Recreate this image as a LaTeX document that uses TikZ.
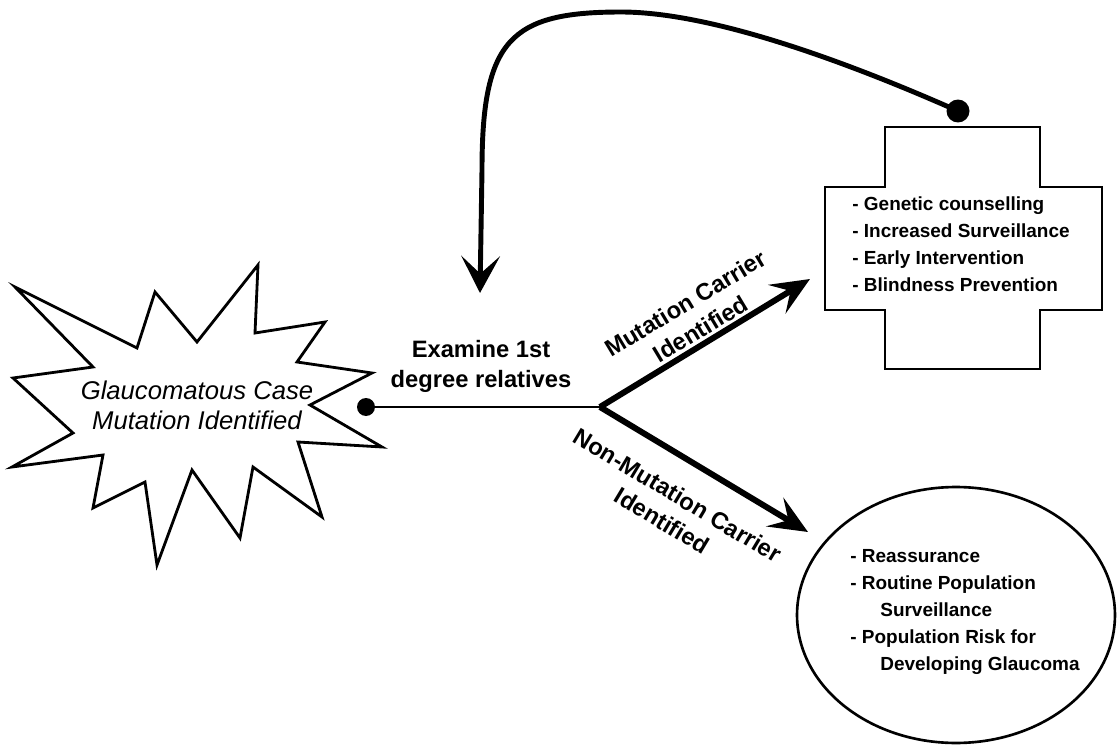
\documentclass[tikz,border=0pt]{standalone}
\usepackage{fontspec}
\setmainfont{Liberation Sans}
\usetikzlibrary{arrows.meta,shapes.geometric}
\begin{document}
\begin{tikzpicture}[x=0.02cm,y=-0.02cm,
  outline/.style={draw=black, line width=1.6pt},
  flow/.style={line width=1.7pt},
  branch/.style={line width=3.4pt, -{Stealth[length=22pt,width=19pt,inset=9pt]}},
  loopback/.style={line width=2.8pt, -{Stealth[length=21pt,width=22pt,inset=10pt]}},
  dot/.style={circle, fill=black, inner sep=0pt},
  lbl/.style={font=\fontsize{13.5}{17}\selectfont\bfseries, align=center, inner sep=0pt},
  items/.style={font=\fontsize{10.8}{15.3}\selectfont\bfseries, align=left, inner sep=0pt}]
\useasboundingbox (0,0) rectangle (1117,747);
% case burst
\draw[outline] (15,287) -- (137,348) -- (155,292) -- (197,342) -- (258,265) -- (255,333)
  -- (325,322) -- (297,362) -- (372,373) -- (310,405) -- (382,447) -- (298,442)
  -- (322,517) -- (253,467) -- (240,538) -- (192,470) -- (157,565) -- (145,482)
  -- (93,508) -- (103,455) -- (12,467) -- (73,433) -- (13,378) -- (93,367) -- cycle;
\node[font=\fontsize{14.6}{17}\selectfont\itshape, align=center, inner sep=0pt] (case) at (197,405)
  {Glaucomatous Case\\Mutation Identified};
% carrier cross
\draw[outline] (885,127) -- (1040,127) -- (1040,187) -- (1102,187) -- (1102,310) -- (1040,310)
  -- (1040,369) -- (885,369) -- (885,310) -- (825,310) -- (825,187) -- (885,187) -- cycle;
\node[items] (carrier) at (961,244)
  {- Genetic counselling\\- Increased Surveillance\\- Early Intervention\\- Blindness Prevention};
% non-carrier ellipse
\node[ellipse, draw, line width=1.5pt, minimum width=6.36cm, minimum height=5.12cm] (noncarrier) at (956,615) {};
\node[items] (noncarriertext) at (965,612)
  {- Reassurance\\- Routine Population\\\hspace*{0.6cm}Surveillance\\- Population Risk for\\\hspace*{0.6cm}Developing Glaucoma};
% connectors
\node[dot, minimum size=0.36cm] (casedot) at (366,407) {};
\node[dot, minimum size=0.46cm] (crossdot) at (958,111) {};
\coordinate (fork) at (600,407);
\coordinate (carriertip) at (810,279);
\coordinate (noncarriertip) at (808,532);
\coordinate (backtip) at (480,293);
\draw[flow] (casedot.center) -- (fork);
\draw[branch] (fork) -- (carriertip);
\draw[branch] (fork) -- (noncarriertip);
\draw[loopback] (crossdot.center) .. controls (820,50) and (700,12) .. (621,12)
  .. controls (510,12) and (482,40) .. (482,170) -- (backtip);
% labels
\node[lbl] (examine) at (481,366) {Examine 1st\\degree relatives};
\node[lbl, rotate=31] (carrierlbl) at (693,316) {Mutation Carrier\\Identified};
\node[lbl, rotate=-31] (noncarrierlbl) at (670,508) {Non-Mutation Carrier\\Identified};
\end{tikzpicture}
\end{document}
